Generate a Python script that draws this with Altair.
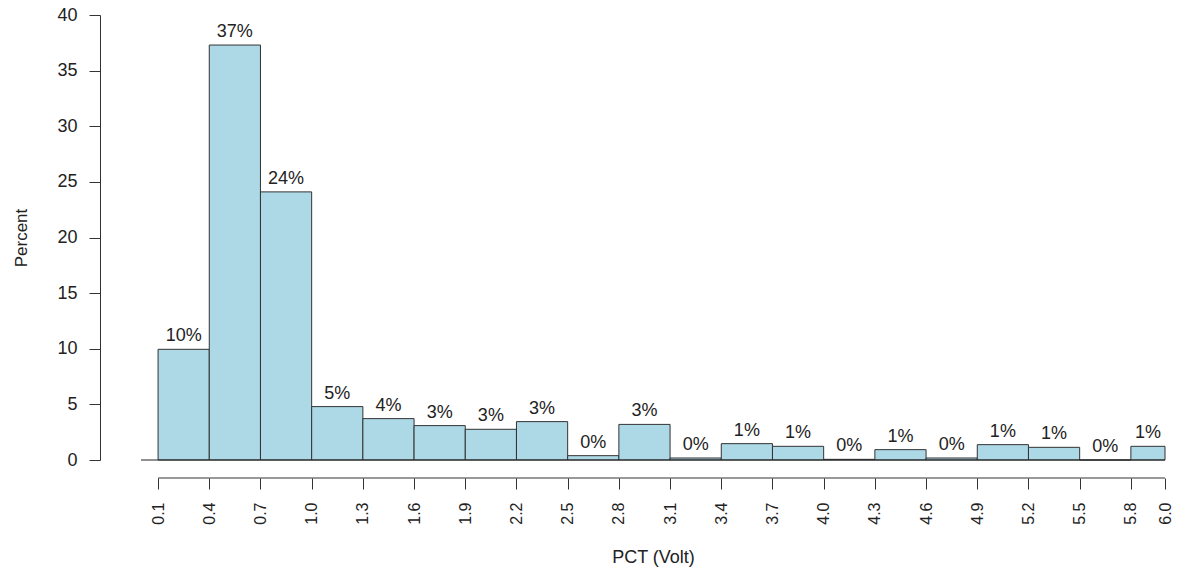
import altair as alt
import pandas as pd

bin_start = [0.1, 0.4, 0.7, 1.0, 1.3, 1.6, 1.9, 2.2, 2.5, 2.8, 3.1, 3.4, 3.7, 4.0, 4.3, 4.6, 4.9, 5.2, 5.5, 5.8]
bin_end = [0.4, 0.7, 1.0, 1.3, 1.6, 1.9, 2.2, 2.5, 2.8, 3.1, 3.4, 3.7, 4.0, 4.3, 4.6, 4.9, 5.2, 5.5, 5.8, 6.0]
percent = [9.95, 37.3, 24.1, 4.8, 3.72, 3.09, 2.76, 3.45, 0.39, 3.2, 0.18, 1.47, 1.23, 0.06,
           0.93, 0.18, 1.38, 1.14, 0.0, 1.23]
labels = ["10%", "37%", "24%", "5%", "4%", "3%", "3%", "3%", "0%", "3%", "0%", "1%", "1%", "0%",
          "1%", "0%", "1%", "1%", "0%", "1%"]
x_ticks = [0.1, 0.4, 0.7, 1.0, 1.3, 1.6, 1.9, 2.2, 2.5, 2.8, 3.1, 3.4, 3.7, 4.0, 4.3, 4.6, 4.9, 5.2, 5.5, 5.8, 6.0]
y_ticks = [0, 5, 10, 15, 20, 25, 30, 35, 40]

df = pd.DataFrame({
    "start": bin_start,
    "end": bin_end,
    "mid": [(a + b) / 2 for a, b in zip(bin_start, bin_end)],
    "pct": percent,
    "label": labels,
})

FONT = "Liberation Sans"
xscale = alt.Scale(domain=[0, 6], nice=False, zero=False)
yscale = alt.Scale(domain=[0, 40], nice=False)

bars = alt.Chart(df).mark_rect(fill="#ADD8E6", stroke="#333333", strokeWidth=1).encode(
    x=alt.X("start:Q", scale=xscale,
            axis=alt.Axis(values=x_ticks, format=".1f", labelAngle=270, labelAlign="right",
                          labelBaseline="middle", domain=False, offset=18, tickSize=11,
                          tickColor="#333333", labelPadding=13, labelFontSize=16,
                          labelColor="#222222", labelFont=FONT, grid=False,
                          title="PCT (Volt)", titleFont=FONT, titleFontSize=18,
                          titleFontWeight="normal", titleColor="#222222", titlePadding=24,
                          labelOverlap=False, labelFlush=False)),
    x2="end:Q",
    y=alt.Y("pct:Q", scale=yscale,
            axis=alt.Axis(values=y_ticks, offset=41, tickSize=11, tickColor="#333333",
                          domainColor="#333333", labelPadding=12, labelFontSize=18,
                          labelColor="#222222", labelFont=FONT, grid=False,
                          title="Percent", titleFont=FONT, titleFontSize=17,
                          titleFontWeight="normal", titleColor="#222222", titlePadding=26)),
    y2=alt.datum(0),
)

text = alt.Chart(df).mark_text(baseline="alphabetic", dy=-8, fontSize=18, font=FONT,
                               color="#222222").encode(
    x=alt.X("mid:Q", scale=xscale),
    y=alt.Y("pct:Q", scale=yscale),
    text="label:N",
)

base_df = pd.DataFrame({"x": [0.0], "x2": [6.0], "y": [0.0]})
baseline = alt.Chart(base_df).mark_rule(color="#222222", strokeWidth=1).encode(
    x=alt.X("x:Q", scale=xscale), x2="x2:Q", y=alt.Y("y:Q", scale=yscale)
)

axis_df = pd.DataFrame({"x": [x_ticks[0]], "x2": [x_ticks[-1]]})
xaxis_line = alt.Chart(axis_df).mark_rule(color="#333333", strokeWidth=1).encode(
    x=alt.X("x:Q", scale=xscale), x2="x2:Q", y=alt.value(463)
)

chart = alt.layer(bars, baseline, text, xaxis_line).properties(
    width=1024, height=445,
    autosize=alt.AutoSizeParams(type="none"),
    padding={"left": 141, "top": 15, "right": 12, "bottom": 109},
    background="white",
).configure_view(stroke=None)

chart.save("out.html", embed_options={"renderer": "svg", "actions": False})
